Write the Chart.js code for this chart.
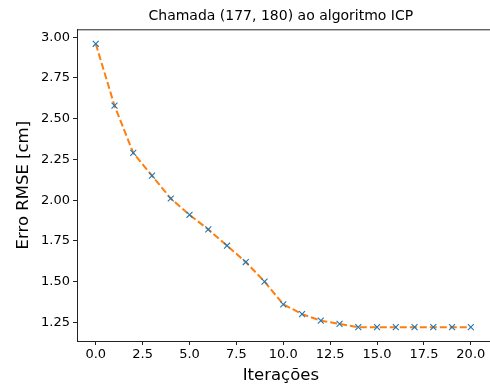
<!DOCTYPE html>
<html>
<head>
<meta charset="utf-8">
<script src="https://cdn.jsdelivr.net/npm/chart.js@4"></script>
<style>
  html, body { margin: 0; padding: 0; background: #fff; overflow: hidden; }
</style>
</head>
<body>
<canvas id="icpChart" width="490" height="385"></canvas>
<script>
// dados
const iteracoes = [0, 1, 2, 3, 4, 5, 6, 7, 8, 9, 10, 11, 12, 13, 14, 15, 16, 17, 18, 19, 20];
const erroRmse = [2.96, 2.58, 2.29, 2.15, 2.01, 1.91, 1.82, 1.72, 1.62, 1.50, 1.36, 1.30, 1.26, 1.24, 1.22, 1.22, 1.22, 1.22, 1.22, 1.22, 1.22];
const xTicks = [0, 2.5, 5, 7.5, 10, 12.5, 15, 17.5, 20];
const yTicks = [1.25, 1.5, 1.75, 2.0, 2.25, 2.5, 2.75, 3.0];

const pontos = iteracoes.map((it, i) => ({ x: it, y: erroRmse[i] }));
const fonte = 'DejaVu Sans';

// moldura à volta da área do gráfico (como no matplotlib)
const moldura = {
    id: 'moldura',
    afterDraw(chart) {
        const a = chart.chartArea;
        const ctx = chart.ctx;
        ctx.save();
        ctx.strokeStyle = '#222';
        ctx.lineWidth = 1;
        // o lado direito fica fora da imagem, como no original
        ctx.strokeRect(a.left + 0.5, a.top + 0.5, a.right - a.left + 10, a.bottom - a.top);
        ctx.restore();
    }
};

const ctx = document.getElementById('icpChart').getContext('2d');
new Chart(ctx, {
    type: 'scatter',
    data: {
        datasets: [{
            label: 'linha',
            data: pontos,
            showLine: true,
            borderColor: '#ff7f0e',
            borderWidth: 2,
            borderDash: [7, 3],
            pointRadius: 0,
            fill: false,
            order: 1
        }, {
            label: 'pontos',
            data: pontos,
            showLine: false,
            pointStyle: 'crossRot',
            pointRadius: 4.2,
            pointBorderColor: '#1f77b4',
            pointBorderWidth: 1.1,
            order: 0
        }]
    },
    options: {
        responsive: false,
        animation: false,
        layout: { padding: 0 },
        plugins: {
            legend: { display: false },
            tooltip: { enabled: false },
            title: {
                display: true,
                fullSize: false,
                text: 'Chamada (177, 180) ao algoritmo ICP',
                color: '#000',
                font: { family: fonte, size: 14, weight: 'normal' },
                padding: { top: 8, bottom: 4.5 }
            }
        },
        scales: {
            x: {
                type: 'linear',
                min: -1,
                max: 20.74,
                afterBuildTicks: s => { s.ticks = xTicks.map(v => ({ value: v })); },
                afterFit: s => { s.height = 44; s.paddingLeft = 0; s.paddingRight = 0; },
                ticks: {
                    color: '#000',
                    font: { family: fonte, size: 13 },
                    padding: 2,
                    maxRotation: 0,
                    callback: v => Number(v).toFixed(1)
                },
                grid: { display: true, drawOnChartArea: false, tickLength: 4, color: '#222' },
                border: { display: true, color: '#222' },
                title: {
                    display: true,
                    text: 'Iterações',
                    color: '#000',
                    font: { family: fonte, size: 16.5 },
                    padding: { top: 0, bottom: -1 }
                }
            },
            y: {
                type: 'linear',
                min: 1.135,
                max: 3.049,
                afterBuildTicks: s => { s.ticks = yTicks.map(v => ({ value: v })); },
                afterFit: s => { s.width = 77; s.paddingTop = 0; s.paddingBottom = 0; },
                ticks: {
                    color: '#000',
                    font: { family: fonte, size: 13 },
                    padding: 3,
                    callback: v => Number(v).toFixed(2)
                },
                grid: { display: true, drawOnChartArea: false, tickLength: 4, color: '#222' },
                border: { display: true, color: '#222' },
                title: {
                    display: true,
                    text: 'Erro RMSE [cm]',
                    color: '#000',
                    font: { family: fonte, size: 16.5 },
                    padding: { top: 14, bottom: 0 }
                }
            }
        }
    },
    plugins: [moldura]
});
</script>
</body>
</html>
